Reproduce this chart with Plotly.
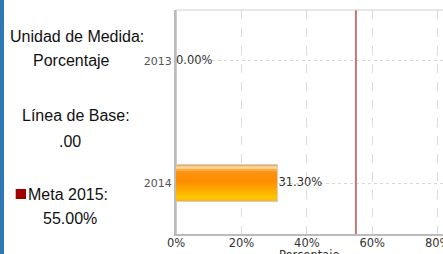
import plotly.graph_objects as go

# ---- data ----
years = ["2013", "2014"]
values = [0.00, 31.30]
meta_value = 55.00
unit_label = "Porcentaje"
baseline_label = ".00"
meta_label = "55.00%"
x_ticks = [0, 20, 40, 60, 80]
x_ticktext = ["0%", "20%", "40%", "60%", "80%"]

W, H = 443, 254
ML, MR, MT, MB = 176, 0, 10, 20
PW, PH = W - ML - MR, H - MT - MB


def px(x):
    return (x - ML) / PW


def py(y):
    return (H - MB - y) / PH


fig = go.Figure()

# gradient bar drawn as horizontal slices (style only)
bar_w = 0.30
stops = [
    (0.00, (240, 160, 60)),
    (0.05, (255, 200, 130)),
    (0.10, (255, 225, 180)),
    (0.17, (255, 150, 20)),
    (0.45, (255, 140, 0)),
    (0.70, (255, 170, 0)),
    (0.90, (255, 198, 0)),
    (1.00, (255, 175, 20)),
]


def col(f):
    for (f0, c0), (f1, c1) in zip(stops[:-1], stops[1:]):
        if f0 <= f <= f1:
            t = (f - f0) / (f1 - f0) if f1 > f0 else 0
            return "rgb(%d,%d,%d)" % tuple(round(a + (b - a) * t) for a, b in zip(c0, c1))
    return "rgb(%d,%d,%d)" % stops[-1][1]


N = 30
for i in range(N):
    f = (i + 0.5) / N
    fig.add_trace(go.Bar(
        y=years, x=values, orientation="h",
        width=bar_w / N * 1.05, offset=-bar_w / 2 + i * bar_w / N,
        marker=dict(color=col(f), line=dict(width=0)),
        hoverinfo="skip", showlegend=False,
    ))

# outline
fig.add_trace(go.Bar(
    y=years, x=values, orientation="h", width=bar_w,
    marker=dict(color="rgba(0,0,0,0)", line=dict(color="#d0d0d0", width=1)),
    hoverinfo="skip", showlegend=False,
))

# value labels
fig.add_trace(go.Scatter(
    y=years, x=values, mode="text",
    text=[f"{v:.2f}%" for v in values], textposition="middle right",
    textfont=dict(family="DejaVu Sans", size=11.5, color="#333"),
    hoverinfo="skip", showlegend=False,
))

fig.update_layout(
    width=W, height=H,
    margin=dict(l=ML, r=MR, t=MT, b=MB, autoexpand=False),
    paper_bgcolor="white", plot_bgcolor="white",
    barmode="overlay", bargap=0,
    xaxis=dict(
        range=[0, 80 * PW / 261.7], tickvals=x_ticks, ticktext=x_ticktext,
        showgrid=True, gridcolor="#dcdcdc", griddash="dash", gridwidth=1,
        zeroline=True, zerolinecolor="#cccccc", zerolinewidth=1,
        showline=True, linecolor="#bbbbbb", linewidth=2,
        ticks="", ticklen=0, ticklabelstandoff=-3, ticklabeloverflow="allow",
        tickfont=dict(family="DejaVu Sans", size=11.5, color="#333"),
        automargin=False, fixedrange=True,
    ),
    yaxis=dict(
        type="category", range=[1.4135, -0.4135],
        showgrid=True, gridcolor="#d8d8d8", griddash="dot", gridwidth=1,
        showline=True, linecolor="#bbbbbb", linewidth=2,
        ticks="", ticklabelstandoff=0,
        tickfont=dict(family="DejaVu Sans", size=11, color="#555"),
        automargin=False, fixedrange=True,
    ),
    shapes=[
        # meta line
        dict(type="line", xref="x", yref="paper", x0=meta_value, x1=meta_value, y0=0, y1=1,
             line=dict(color="#c07872", width=2)),
        # top border
        dict(type="line", xref="paper", yref="paper", x0=0, x1=1, y0=1, y1=1,
             line=dict(color="#d0d0d0", width=1)),
        # left blue strip
        dict(type="rect", xref="paper", yref="paper", x0=px(0), x1=px(4), y0=py(H), y1=py(0),
             fillcolor="#2f78b6", line=dict(width=0), layer="above"),
        # meta square
        dict(type="rect", xref="paper", yref="paper", x0=px(15.7), x1=px(26), y0=py(199), y1=py(189),
             fillcolor="#a00000", line=dict(width=0), layer="above"),
    ],
)

# x axis title (partly cut at the bottom edge, as in the reference)
fig.add_annotation(text=unit_label, xref="paper", yref="paper", x=0.5, y=py(245.5),
                   xanchor="center", yanchor="top", showarrow=False,
                   font=dict(family="DejaVu Sans", size=11.5, color="#333"))

lf = dict(family="Liberation Sans, Arial", size=16, color="#111")
ann = [
    ("Unidad de Medida:", 77, 36),
    (unit_label, 71, 60),
    ("Línea de Base:", 76, 115),
    (baseline_label, 70, 141.5),
    ("Meta 2015:", 68, 194),
    (meta_label, 70, 218),
]
for t, x, y in ann:
    fig.add_annotation(text=t, xref="paper", yref="paper", x=px(x), y=py(y),
                       xanchor="center", yanchor="middle", showarrow=False, font=lf)

fig.write_html(
    "out.html",
    config={"displayModeBar": False},
    post_script="document.body.style.margin='0';document.body.style.overflow='hidden';",
)
